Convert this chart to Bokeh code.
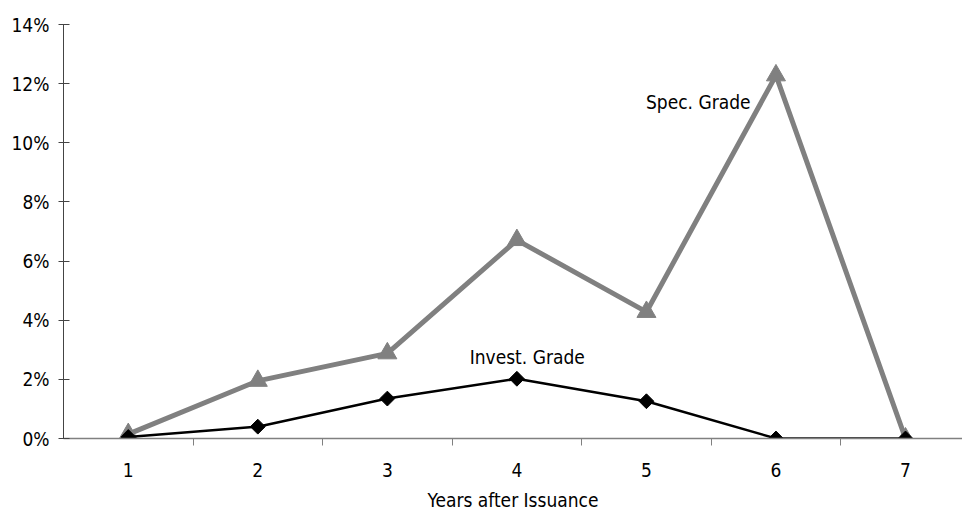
import math
from bokeh.plotting import figure
from bokeh.models import Range1d, FixedTicker, NumeralTickFormatter, Label
from bokeh.embed import file_html
from bokeh.resources import INLINE

years = [1, 2, 3, 4, 5, 6, 7]
spec_grade = [0.0015, 0.0195, 0.0288, 0.0671, 0.0428, 0.1228, 0.0]
invest_grade = [0.0005, 0.0040, 0.0135, 0.0202, 0.0126, 0.0, 0.0]
y_ticks = [0, 0.02, 0.04, 0.06, 0.08, 0.10, 0.12, 0.14]
x_minor = [1.5, 2.5, 3.5, 4.5, 5.5, 6.5]

FONT = "'Liberation Sans Narrow', 'DejaVu Sans Condensed', 'Arial Narrow', sans-serif"
FS = "19px"

p = figure(width=962, height=513, output_backend="svg", toolbar_location=None,
           x_range=Range1d(0.5, 7.44), y_range=Range1d(0, 0.14),
           min_border_left=63, min_border_right=0, min_border_top=24, min_border_bottom=74)
p.outline_line_color = None
p.grid.visible = False
p.background_fill_color = "white"

# lines and markers
p.line(years, spec_grade, line_color="#808080", line_width=5)
p.scatter(years, spec_grade, marker="triangle", size=19, fill_color="#808080",
          line_color="#808080")
p.line(years, invest_grade, line_color="black", line_width=2.5)
p.scatter(years, invest_grade, marker="square", size=10.5, angle=math.pi / 4,
          fill_color="black", line_color="black")

# y axis
ya = p.yaxis[0]
ya.ticker = FixedTicker(ticks=y_ticks)
ya.formatter = NumeralTickFormatter(format="0%")
ya.axis_line_color = "#444444"
ya.major_tick_line_color = "#444444"
ya.major_tick_in = 6
ya.major_tick_out = 5
ya.minor_tick_line_color = None
ya.major_label_text_font = FONT
ya.major_label_text_font_size = FS
ya.major_label_text_color = "black"
ya.major_label_standoff = 9

# x axis
xa = p.xaxis[0]
xa.ticker = FixedTicker(ticks=years, minor_ticks=x_minor)
xa.axis_line_color = "#808080"
xa.axis_line_width = 1.5
xa.major_tick_line_color = None
xa.major_tick_out = 0
xa.major_tick_in = 0
xa.minor_tick_line_color = "#808080"
xa.minor_tick_in = 0
xa.minor_tick_out = 7
xa.major_label_text_font = FONT
xa.major_label_text_font_size = FS
xa.major_label_text_color = "black"
xa.major_label_standoff = 17
xa.axis_label = "Years after Issuance"
xa.axis_label_text_font = FONT
xa.axis_label_text_font_size = FS
xa.axis_label_text_font_style = "normal"
xa.axis_label_text_color = "black"
xa.axis_label_standoff = 9

p.add_layout(Label(x=5.40, y=0.1137, text="Spec. Grade", text_font=FONT,
                   text_font_size=FS, text_color="black",
                   text_align="center", text_baseline="middle"))
p.add_layout(Label(x=4.08, y=0.0277, text="Invest. Grade", text_font=FONT,
                   text_font_size=FS, text_color="black",
                   text_align="center", text_baseline="middle"))

open("out.html", "w").write(file_html(p, INLINE))
